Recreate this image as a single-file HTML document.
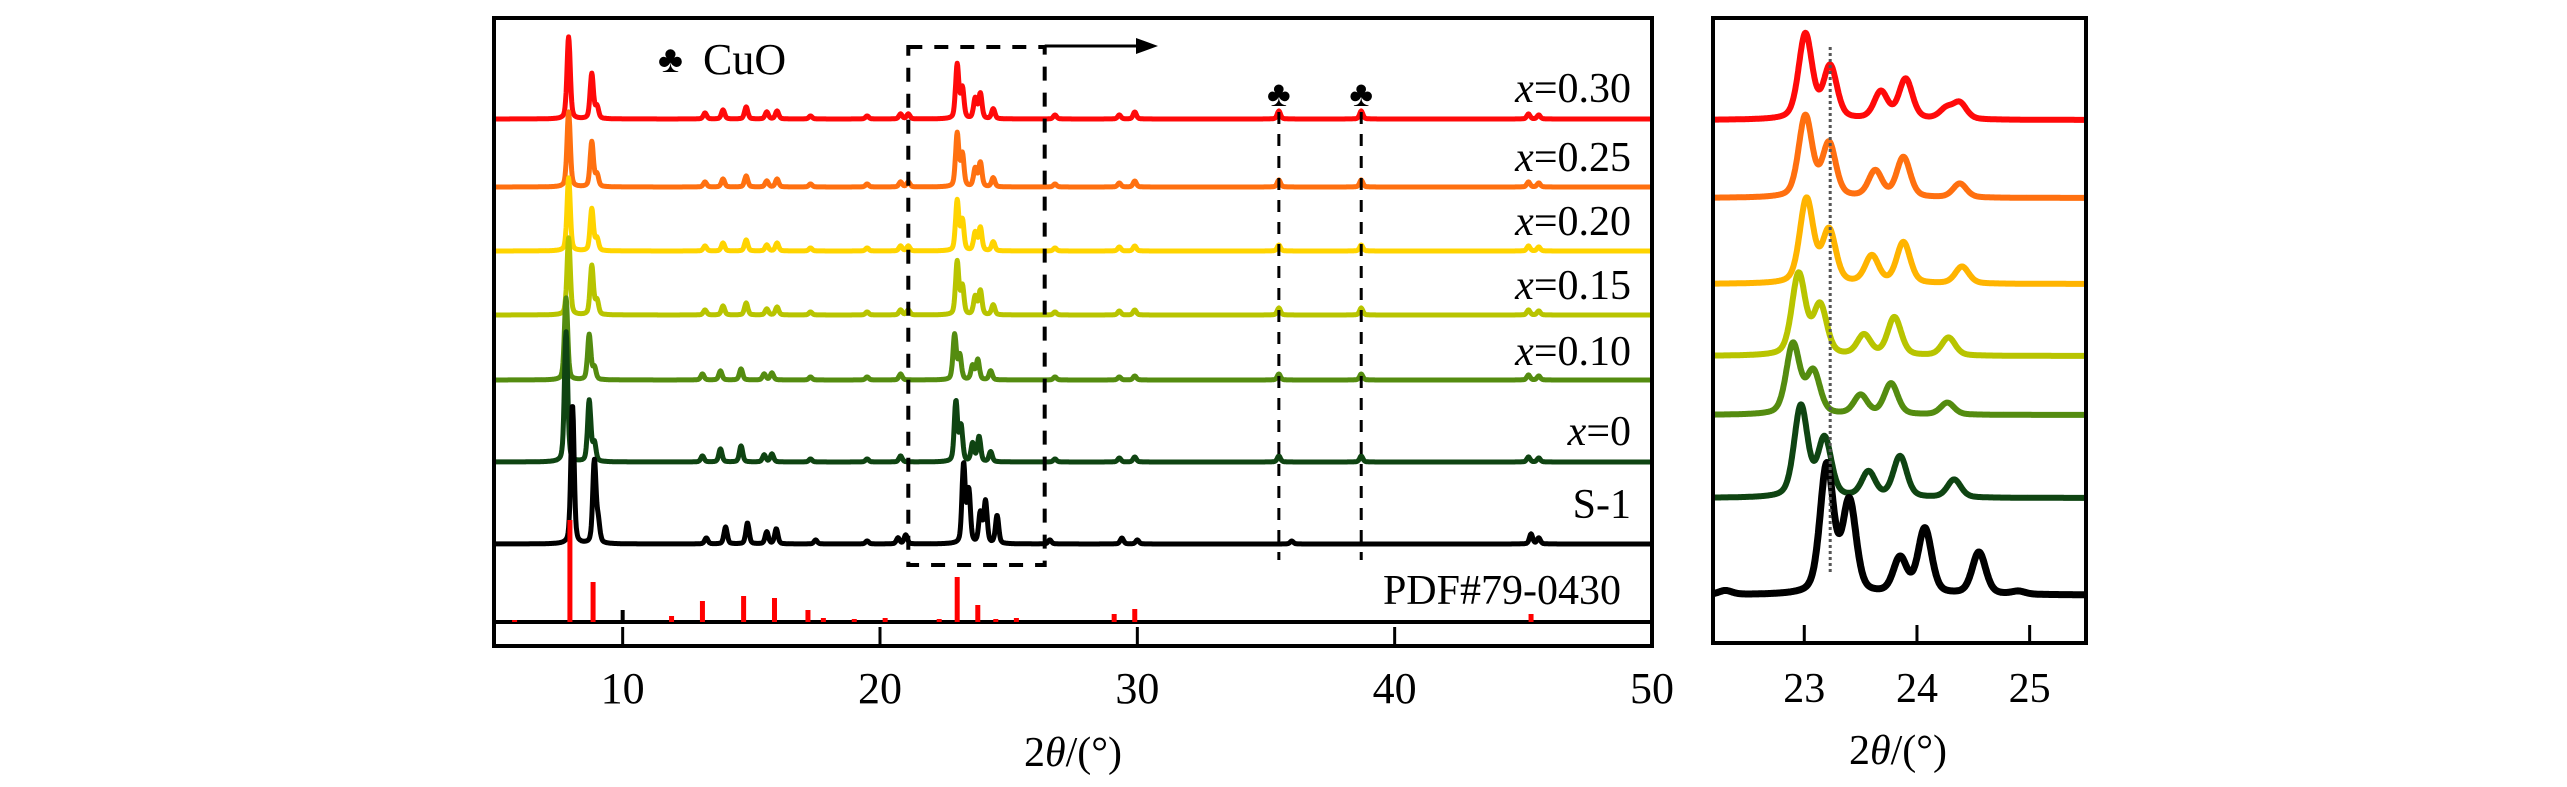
<!DOCTYPE html>
<html><head><meta charset="utf-8">
<style>
html,body{margin:0;padding:0;background:#fff;}
svg{display:block;}
text{font-family:"Liberation Serif","DejaVu Serif",serif;fill:#000;}
</style></head>
<body>
<svg id="chart" width="2567" height="787" viewBox="0 0 2567 787" xmlns="http://www.w3.org/2000/svg">
  <g id="main"></g>
  <g id="inset"></g>
</svg>
<script>
// ---------- DATA ----------
const seriesNames = ["x=0.30","x=0.25","x=0.20","x=0.15","x=0.10","x=0","S-1"];
const seriesColors = ["#ff0a0a","#ff7010","#ffd400","#b8c400","#548c10","#0f4412","#000000"];
const insetColors = ["#ff0a0a","#ff7010","#ffb400","#b8c400","#548c10","#0f4412","#000000"];
const mainOffsets = [425,357,293,229,164,82,0];
const insetOffsets = [475,397,311,239,180,97,0];
// main-panel peaks: [2theta, intensity]
const peaksX30 = [[7.9,82],[8.8,45],[9.0,12],[13.2,6],[13.9,9],[14.8,12],[15.6,7],[16.0,8],[17.3,3],[19.5,3],[20.8,5],[21.1,5],[23.0,54],[23.2,30],[23.7,20],[23.9,25],[24.4,10],[26.8,4],[29.3,4],[29.9,7],[35.5,8],[38.7,8],[45.2,5],[45.6,4]];
const peaksX25 = [[7.9,75],[8.8,45],[9.0,12],[13.2,5],[13.9,8],[14.8,11],[15.6,6],[16.0,8],[17.3,3],[19.5,3],[20.8,5],[21.1,5],[23.0,53],[23.2,32],[23.7,18],[23.9,24],[24.4,9],[26.8,3],[29.3,4],[29.9,6],[35.5,7],[38.7,7],[45.2,5],[45.6,4]];
const peaksX20 = [[7.9,73],[8.8,42],[9.0,12],[13.2,5],[13.9,8],[14.8,11],[15.6,6],[16.0,8],[17.3,3],[19.5,3],[20.8,5],[21.1,5],[23.0,50],[23.2,30],[23.7,18],[23.9,23],[24.4,9],[26.8,3],[29.3,4],[29.9,5],[35.5,6],[38.7,6],[45.2,5],[45.6,4]];
const peaksX15 = [[7.9,77],[8.8,49],[9.0,14],[13.2,5],[13.9,9],[14.8,12],[15.6,6],[16.0,8],[17.3,3],[19.5,3],[20.8,5],[21.1,5],[23.0,53],[23.2,28],[23.7,18],[23.9,24],[24.4,10],[26.8,3],[29.3,4],[29.9,5],[35.5,7],[38.7,7],[45.2,5],[45.6,4]];
const peaksX10 = [[7.8,82],[8.7,45],[8.9,12],[13.1,6],[13.8,9],[14.6,11],[15.5,6],[15.8,7],[17.3,3],[19.5,3],[20.8,6],[22.9,45],[23.1,24],[23.6,14],[23.8,20],[24.3,9],[26.8,3],[29.3,3],[29.9,4],[35.5,6],[38.7,6],[45.2,5],[45.6,4]];
const peaksX0 = [[7.8,130],[8.7,61],[8.9,18],[13.1,6],[13.8,13],[14.6,16],[15.5,7],[15.8,8],[17.3,3],[19.5,3],[20.8,6],[22.95,60],[23.15,35],[23.6,18],[23.85,25],[24.3,10],[26.8,3],[29.3,4],[29.9,5],[35.5,6],[38.7,6],[45.2,5],[45.6,4]];
const peaksS1 = [[8.05,139],[8.9,82],[9.05,20],[13.25,6],[14.0,17],[14.85,21],[15.6,12],[15.97,15],[17.5,4],[19.5,3],[20.7,6],[21.0,9],[23.25,79],[23.45,52],[23.9,30],[24.1,42],[24.55,28],[26.6,4],[29.4,6],[30.0,4],[36.0,3],[45.3,10],[45.6,6]];
const mainPeaks = [peaksX30,peaksX25,peaksX20,peaksX15,peaksX10,peaksX0,peaksS1];
// inset peaks
const insX30 = [[23.01,85],[23.23,52],[23.68,27],[23.9,40],[24.26,10],[24.38,16]];
const insX25 = [[23.01,81],[23.22,53],[23.63,26],[23.88,40],[24.38,14]];
const insX20 = [[23.02,84],[23.22,52],[23.6,27],[23.88,41],[24.4,17]];
const insX15 = [[22.95,81],[23.14,49],[23.53,20],[23.8,38],[24.28,18]];
const insX10 = [[22.9,70],[23.08,42],[23.5,19],[23.77,31],[24.27,12]];
const insX0 = [[22.97,91],[23.18,58],[23.57,25],[23.85,41],[24.33,18]];
const insS1 = [[22.3,4],[23.2,128],[23.4,91],[23.85,35],[24.07,65],[24.55,42],[24.9,3]];
const insetPeaks = [insX30,insX25,insX20,insX15,insX10,insX0,insS1];
// reference card PDF#79-0430 sticks
const pdfPos = [5.8,7.95,8.85,11.9,13.1,14.7,15.9,17.2,17.8,19.0,20.2,22.3,23.0,23.8,24.5,25.3,29.1,29.9,45.3];
const pdfInt = [2,102,40,6,21,26,24,12,4,3,4,3,45,17,3,4,8,13,8];
const blackStickPos = [10.0];
const blackStickInt = [12];
const mainTicks = [10,20,30,40,50];
const insetTicks = [23,24,25];
const cuoPos = [35.5,38.7];

// ---------- AXES ----------
const M = {x0:494,x1:1652,y0:18,y1:646,dmin:5,dmax:50,base:544};
const I = {x0:1713,x1:2086,y0:18,y1:643,dmin:22.19,dmax:25.5,base:595};
const mx = v => M.x0 + (v-M.dmin)/(M.dmax-M.dmin)*(M.x1-M.x0);
const ix = v => I.x0 + (v-I.dmin)/(I.dmax-I.dmin)*(I.x1-I.x0);
const NS="http://www.w3.org/2000/svg";
function mk(tag,attrs,parent){const e=document.createElementNS(NS,tag);for(const k in attrs)e.setAttribute(k,attrs[k]);parent.appendChild(e);return e;}
function prof(t,peaks,w){let s=0;for(const p of peaks){const d=(t-p[0])/w;s+=p[1]/(1+d*d*1.0)*0.35+p[1]*Math.exp(-d*d*0.8)*0.65;}return s;}

const main=document.getElementById('main');
const inset=document.getElementById('inset');

// main series
mainPeaks.forEach((pk,i)=>{
  let d='';
  for(let t=M.dmin;t<=M.dmax+1e-9;t+=0.02){
    const y=M.base-mainOffsets[i]-prof(t,pk,0.08);
    d+=(d?'L':'M')+mx(t).toFixed(1)+','+y.toFixed(1);
  }
  const p=mk('path',{d:d,fill:'none',stroke:seriesColors[i],'stroke-width':5,'stroke-linejoin':'round'},main);
  
  
});
// pdf sticks
mk('line',{x1:M.x0,x2:M.x1,y1:622,y2:622,stroke:'#000','stroke-width':4,},main);
pdfPos.forEach((v,k)=>{
  const r=mk('rect',{x:mx(v)-2.5,y:622-pdfInt[k],width:5,height:pdfInt[k],fill:'#ff0000'},main);
  
  
});
blackStickPos.forEach((v,k)=>{
  const r=mk('rect',{x:mx(v)-2,y:622-blackStickInt[k],width:4,height:blackStickInt[k],fill:'#000'},main);
  
  
});
// dashed box + arrow
mk('rect',{x:mx(21.1),y:47,width:mx(26.4)-mx(21.1),height:518,fill:'none',stroke:'#000','stroke-width':4,'stroke-dasharray':'14,12',},main);
mk('line',{x1:mx(26.4),y1:46,x2:1140,y2:46,stroke:'#000','stroke-width':3,},main);
mk('polygon',{points:'1158,46 1136,38 1136,54',fill:'#000',},main);
// CuO markers
cuoPos.forEach(v=>{
  const l=mk('line',{x1:mx(v),x2:mx(v),y1:112,y2:560,stroke:'#000','stroke-width':3,'stroke-dasharray':'12,10'},main);
  
  
  const c=mk('text',{x:mx(v),y:106,'font-size':36,'text-anchor':'middle'},main);
  c.textContent='♣';
  
  
});
// legend CuO
const cl=mk('text',{x:658,y:72,'font-size':38,},main);cl.textContent='♣';
const ct=mk('text',{x:703,y:74,'font-size':44,},main);ct.textContent='CuO';
// series labels
const labY=[102,171,235,299,365,445,518];
seriesNames.forEach((n,i)=>{
  const t=mk('text',{x:1631,y:labY[i],'font-size':42,'text-anchor':'end'},main);
  
  
  if(n.startsWith('x=')){
    const a=mk('tspan',{'font-style':'italic'},t);a.textContent='x';
    const b=mk('tspan',{},t);b.textContent=n.slice(1);
  } else t.textContent=n;
});
const pdfl=mk('text',{x:1621,y:604,'font-size':42,'text-anchor':'end',},main);pdfl.textContent='PDF#79-0430';
// frame, ticks
mk('rect',{x:M.x0,y:M.y0,width:M.x1-M.x0,height:M.y1-M.y0,fill:'none',stroke:'#000','stroke-width':4,},main);
mainTicks.forEach(v=>{
  if(v<M.dmax){const tk=mk('line',{x1:mx(v),x2:mx(v),y1:M.y1,y2:M.y1-19,stroke:'#000','stroke-width':3},main);
  }
  const tl=mk('text',{x:mx(v),y:703,'font-size':44,'text-anchor':'middle'},main);
  tl.textContent=v;
  
  
});
const mt=mk('text',{x:1073,y:766,'font-size':42,'text-anchor':'middle',},main);
mk('tspan',{},mt).textContent='2';mk('tspan',{'font-style':'italic'},mt).textContent='θ';mk('tspan',{},mt).textContent='/(°)';

// inset series
insetPeaks.forEach((pk,i)=>{
  let d='';
  for(let t=I.dmin;t<=I.dmax+1e-9;t+=0.005){
    const y=I.base-insetOffsets[i]-prof(t,pk,0.075);
    d+=(d?'L':'M')+ix(t).toFixed(1)+','+y.toFixed(1);
  }
  const p=mk('path',{d:d,fill:'none',stroke:insetColors[i],'stroke-width':i==6?7:6,'stroke-linejoin':'round'},inset);
  
  
});
mk('line',{x1:ix(23.23),x2:ix(23.23),y1:47,y2:572,stroke:'#555','stroke-width':3,'stroke-dasharray':'3,3',},inset);
mk('rect',{x:I.x0,y:I.y0,width:I.x1-I.x0,height:I.y1-I.y0,fill:'none',stroke:'#000','stroke-width':4,},inset);
insetTicks.forEach(v=>{
  const tk=mk('line',{x1:ix(v),x2:ix(v),y1:I.y1,y2:I.y1-18,stroke:'#000','stroke-width':3},inset);
  
  const tl=mk('text',{x:ix(v),y:702,'font-size':42,'text-anchor':'middle'},inset);
  tl.textContent=v;
  
  
});
const it=mk('text',{x:1898,y:764,'font-size':42,'text-anchor':'middle',},inset);
mk('tspan',{},it).textContent='2';mk('tspan',{'font-style':'italic'},it).textContent='θ';mk('tspan',{},it).textContent='/(°)';
</script>
</body></html>
